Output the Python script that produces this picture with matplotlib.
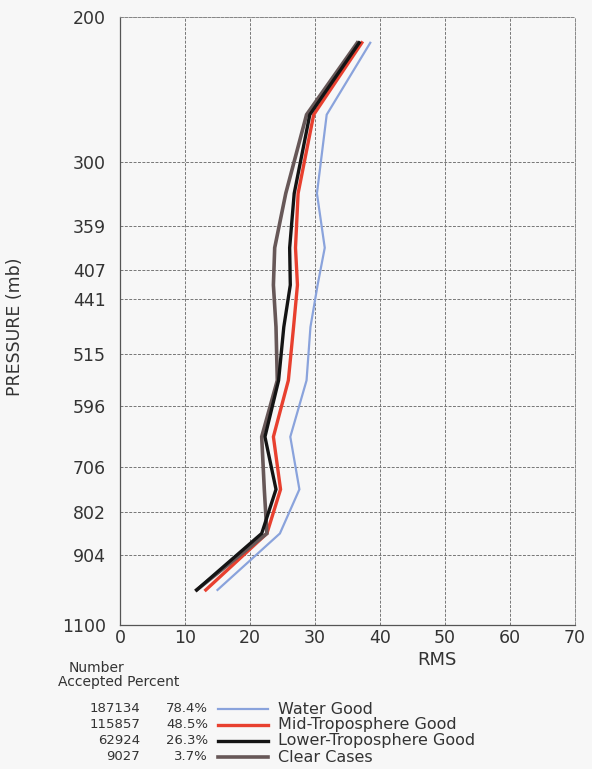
import matplotlib
matplotlib.use('Agg')
import matplotlib.pyplot as plt
from matplotlib.lines import Line2D
from matplotlib.ticker import FixedLocator, FixedFormatter, NullLocator

# pressure levels of the profile vertices (mb)
pressure = [215, 263, 328, 382, 424, 477, 554, 649, 752, 851, 997]

# RMS per level
water_good = [38.5, 31.8, 30.3, 31.5, 30.4, 29.3, 28.7, 26.2, 27.6, 24.6, 15.0]
mid_trop_good = [37.2, 29.8, 27.4, 27.0, 27.3, 26.7, 25.9, 23.6, 24.7, 22.6, 13.2]
lower_trop_good = [36.8, 29.2, 26.8, 26.1, 26.2, 25.2, 24.4, 22.3, 24.0, 21.8, 11.8]
clear_cases = [36.5, 28.7, 25.5, 23.8, 23.6, 24.0, 24.2, 21.8, 22.2, 22.6, 11.8]

series_names = ['Water Good', 'Mid-Troposphere Good', 'Lower-Troposphere Good', 'Clear Cases']
accepted = ['187134', '115857', '62924', '9027']
percent = ['78.4%', '48.5%', '26.3%', '3.7%']
colors = ['#8aa3dc', '#e8402f', '#141414', '#675858']
widths = [1.6, 2.4, 2.4, 2.6]

y_ticks = [200, 300, 359, 407, 441, 515, 596, 706, 802, 904, 1100]
x_ticks = [0, 10, 20, 30, 40, 50, 60, 70]

txt = '#333333'
bg = '#f7f7f7'

fig = plt.figure(figsize=(5.92, 7.69), dpi=100, facecolor=bg)
ax = fig.add_axes([120 / 592, 1 - 625 / 769, 455 / 592, 608 / 769])
ax.set_facecolor(bg)

values = [water_good, mid_trop_good, lower_trop_good, clear_cases]
zorders = [3, 4, 6, 5]
for vals, c, lw, z in zip(values, colors, widths, zorders):
    ax.plot(vals, pressure, color=c, lw=lw, zorder=z, solid_joinstyle='miter')

ax.set_yscale('log')
ax.set_ylim(1100, 200)
ax.set_xlim(0, 70)
ax.yaxis.set_major_locator(FixedLocator(y_ticks))
ax.yaxis.set_major_formatter(FixedFormatter([str(t) for t in y_ticks]))
ax.yaxis.set_minor_locator(NullLocator())
ax.set_xticks(x_ticks)
ax.tick_params(length=0, labelsize=12.5, colors=txt)
ax.tick_params(axis='y', pad=10)
ax.tick_params(axis='x', pad=3)

ax.grid(True, color='#777777', lw=0.7, ls=(0, (3, 1.5)), zorder=1)
for side in ['top', 'right']:
    ax.spines[side].set_color('#888888')
    ax.spines[side].set_linestyle((0, (3, 1.5)))
    ax.spines[side].set_linewidth(0.7)
for side in ['left', 'bottom']:
    ax.spines[side].set_color('#555555')
    ax.spines[side].set_linewidth(0.9)

ax.set_xlabel('RMS', fontsize=13, color=txt)
ax.xaxis.set_label_coords(317 / 455, -0.043)
ax.set_ylabel('PRESSURE (mb)', fontsize=12.5, color=txt)
ax.yaxis.set_label_coords(-96 / 455, 0.49)

# table style legend under the plot
fig.text(69 / 592, 1 - 668 / 769, 'Number', fontsize=10, color=txt, va='center', ha='left')
fig.text(58 / 592, 1 - 682 / 769, 'Accepted Percent', fontsize=10, color=txt, va='center', ha='left')
row_y = [709, 725, 741, 757]
for name, n, p, c, lw, y in zip(series_names, accepted, percent, colors, widths, row_y):
    fy = 1 - y / 769
    fig.text(140 / 592, fy, n, fontsize=9.5, color=txt, ha='right', va='center')
    fig.text(208 / 592, fy, p, fontsize=9.5, color=txt, ha='right', va='center')
    fig.add_artist(Line2D([218 / 592, 268 / 592], [fy, fy], color=c, lw=lw,
                          transform=fig.transFigure))
    fig.text(278 / 592, fy, name, fontsize=11.5, color=txt, ha='left', va='center')

fig.savefig('out.png', dpi=100, facecolor=bg)
